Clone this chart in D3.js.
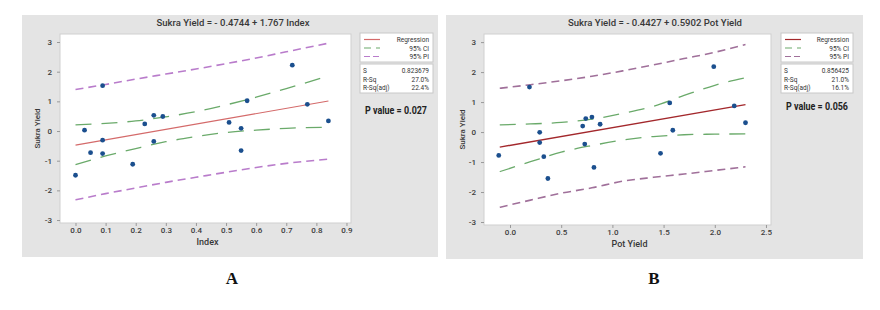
<!DOCTYPE html>
<html>
<head>
<meta charset="utf-8">
<script src="https://cdn.jsdelivr.net/npm/d3@7"></script>
<style>
  body { margin: 0; background: #fff; }
  svg { display: block; font-family: Roboto, "Open Sans", sans-serif; }
</style>
</head>
<body>
<svg id="chart" width="880" height="310"></svg>
<script>
// Panel A: Sukra Yield vs Index
const indexX = [0.00, 0.03, 0.05, 0.09, 0.09, 0.09, 0.19, 0.23, 0.26, 0.29, 0.26, 0.51, 0.55, 0.57, 0.55, 0.72, 0.77, 0.84];
const indexY = [-1.49, 0.03, -0.73, 1.53, -0.31, -0.76, -1.12, 0.24, 0.53, 0.49, -0.35, 0.29, 0.09, 1.02, -0.66, 2.22, 0.90, 0.34];
const bandXA = [0, 0.1, 0.2, 0.3, 0.4, 0.5, 0.6, 0.7, 0.84];
const ciUpperA = [0.21, 0.26, 0.34, 0.48, 0.65, 0.88, 1.14, 1.43, 1.86];
const ciLowerA = [-1.13, -0.84, -0.59, -0.36, -0.19, -0.05, 0.03, 0.09, 0.13];
const piUpperA = [1.40, 1.57, 1.75, 1.92, 2.09, 2.27, 2.46, 2.67, 2.96];
const piLowerA = [-2.32, -2.11, -1.92, -1.73, -1.56, -1.39, -1.23, -1.09, -0.95];
const fitXA = [0, 0.84];
const fitYA = [-0.474, 1.010];
const xTicksA = [0, 0.1, 0.2, 0.3, 0.4, 0.5, 0.6, 0.7, 0.8, 0.9];
const statsA = ["0.823679", "27.0%", "22.4%"];

// Panel B: Sukra Yield vs Pot Yield
const potX = [-0.11, 0.19, 0.29, 0.29, 0.33, 0.37, 0.71, 0.74, 0.80, 0.88, 0.73, 0.82, 1.47, 1.56, 1.59, 1.99, 2.19, 2.30];
const potY = [-0.78, 1.50, -0.01, -0.35, -0.82, -1.55, 0.20, 0.45, 0.50, 0.26, -0.40, -1.18, -0.71, 0.97, 0.06, 2.18, 0.87, 0.31];
const bandXB = [-0.1, 0.2, 0.5, 0.8, 1.1, 1.4, 1.7, 2.0, 2.3];
const ciUpperB = [0.24, 0.27, 0.32, 0.43, 0.62, 0.86, 1.22, 1.56, 1.81];
const ciLowerB = [-1.32, -0.99, -0.67, -0.45, -0.27, -0.15, -0.09, -0.07, -0.06];
const piUpperB = [1.46, 1.58, 1.71, 1.86, 2.04, 2.24, 2.45, 2.66, 2.92];
const piLowerB = [-2.51, -2.27, -2.04, -1.86, -1.64, -1.51, -1.40, -1.28, -1.16];
const fitXB = [-0.1, 2.3];
const fitYB = [-0.502, 0.915];
const xTicksB = [0, 0.5, 1.0, 1.5, 2.0, 2.5];
const statsB = ["0.856425", "21.0%", "16.1%"];

const yTicks = [-3, -2, -1, 0, 1, 2, 3];
const statNames = ["S", "R-Sq", "R-Sq(adj)"];

const svg = d3.select("#chart");

function drawPanel(cfg) {
    const g = svg.append("g");

    // grey panel background
    g.append("rect")
        .attr("x", cfg.bg[0]).attr("y", cfg.bg[1])
        .attr("width", cfg.bg[2]).attr("height", cfg.bg[3])
        .attr("fill", "#e4e4e4");

    const x = d3.scaleLinear().domain(cfg.xDomain).range([cfg.plot[0], cfg.plot[2]]);
    const y = d3.scaleLinear().domain([3.27, -3.1]).range([cfg.plot[1], cfg.plot[3]]);

    // white plot area
    g.append("rect")
        .attr("x", cfg.plot[0]).attr("y", cfg.plot[1])
        .attr("width", cfg.plot[2] - cfg.plot[0]).attr("height", cfg.plot[3] - cfg.plot[1])
        .attr("fill", "#fff")
        .attr("stroke", "#cfcfcf")
        .attr("stroke-width", 1);

    // axes
    const xAxis = g.append("g")
        .attr("transform", `translate(0,${cfg.plot[3]})`)
        .call(d3.axisBottom(x).tickValues(cfg.xTicks).tickFormat(d3.format(".1f")).tickSize(3).tickPadding(1.5));
    const yAxis = g.append("g")
        .attr("transform", `translate(${cfg.plot[0]},0)`)
        .call(d3.axisLeft(y).tickValues(yTicks).tickFormat(d => d < 0 ? "-" + Math.abs(d) : d).tickSize(3).tickPadding(5));
    [xAxis, yAxis].forEach(a => {
        a.select(".domain").remove();
        a.selectAll(".tick line").attr("stroke", "#999");
        a.selectAll(".tick text")
            .attr("fill", "#3c3c3c")
            .style("font-size", "8px")
            .style("font-weight", "500")
            .style("font-family", "Roboto, sans-serif");
    });

    const line = d3.line().x(d => x(d[0])).y(d => y(d[1])).curve(d3.curveMonotoneX);
    const zip = (xs, ys) => xs.map((v, i) => [v, ys[i]]);

    // prediction interval
    [cfg.piUpper, cfg.piLower].forEach(arr => {
        g.append("path")
            .datum(zip(cfg.bandX, arr))
            .attr("d", line)
            .attr("fill", "none")
            .attr("stroke", cfg.piColor)
            .attr("stroke-width", 1.6)
            .attr("stroke-dasharray", "8,5");
    });
    // confidence interval
    [cfg.ciUpper, cfg.ciLower].forEach(arr => {
        g.append("path")
            .datum(zip(cfg.bandX, arr))
            .attr("d", line)
            .attr("fill", "none")
            .attr("stroke", "#6aaa6a")
            .attr("stroke-width", 1.3)
            .attr("stroke-dasharray", "16,10");
    });
    // regression line
    g.append("path")
        .datum(zip(cfg.fitX, cfg.fitY))
        .attr("d", line)
        .attr("fill", "none")
        .attr("stroke", cfg.regColor)
        .attr("stroke-width", cfg.regWidth);

    // data points
    g.selectAll("circle.pt")
        .data(zip(cfg.ptX, cfg.ptY))
        .enter().append("circle")
        .attr("class", "pt")
        .attr("cx", d => x(d[0]))
        .attr("cy", d => y(d[1]))
        .attr("r", 2.4)
        .attr("fill", "#1b4f8e");

    // title and axis labels
    const midX = (cfg.plot[0] + cfg.plot[2]) / 2;
    g.append("text")
        .attr("x", cfg.titleX).attr("y", 26)
        .attr("text-anchor", "middle")
        .attr("fill", "#383838")
        .style("font-size", "9px").style("font-weight", "500")
        .attr("textLength", cfg.titleLen).attr("lengthAdjust", "spacingAndGlyphs")
        .text(cfg.title);
    g.append("text")
        .attr("x", midX + 2).attr("y", cfg.xLabelY)
        .attr("text-anchor", "middle")
        .attr("fill", "#383838")
        .style("font-size", "9px").style("font-weight", "500")
        .text(cfg.xLabel);
    g.append("text")
        .attr("transform", `translate(${cfg.yLabelX},${(cfg.plot[1] + cfg.plot[3]) / 2}) rotate(-90)`)
        .attr("text-anchor", "middle")
        .attr("fill", "#383838")
        .style("font-size", "8px").style("font-weight", "500")
        .text("Sukra Yield");

    // legend box
    const lx = cfg.legend[0], lw = cfg.legend[1];
    g.append("rect")
        .attr("x", lx).attr("y", 33).attr("width", lw).attr("height", 29)
        .attr("fill", "#fff").attr("stroke", "#c8c8c8");
    const legItems = [
        { name: "Regression", color: cfg.regColor, dash: null },
        { name: "95% CI", color: "#6aaa6a", dash: "7,5" },
        { name: "95% PI", color: cfg.piColor, dash: "6,3" }
    ];
    legItems.forEach((it, i) => {
        const yy = 39.5 + i * 8.5;
        g.append("line")
            .attr("x1", lx + 4).attr("x2", lx + 20)
            .attr("y1", yy).attr("y2", yy)
            .attr("stroke", it.color).attr("stroke-width", 1.2)
            .attr("stroke-dasharray", it.dash);
        g.append("text")
            .attr("x", lx + lw - 4).attr("y", yy + 2.5)
            .attr("text-anchor", "end")
            .attr("fill", "#333")
            .style("font-size", "6.5px")
            .text(it.name);
    });

    // stats box
    g.append("rect")
        .attr("x", lx).attr("y", 64).attr("width", lw).attr("height", 29)
        .attr("fill", "#fff").attr("stroke", "#c8c8c8");
    statNames.forEach((s, i) => {
        const yy = 73 + i * 8.5;
        g.append("text")
            .attr("x", lx + 3).attr("y", yy)
            .attr("fill", "#333").style("font-size", "6.5px")
            .text(s);
        g.append("text")
            .attr("x", lx + lw - 4).attr("y", yy)
            .attr("text-anchor", "end")
            .attr("fill", "#333").style("font-size", "6.5px")
            .text(cfg.stats[i]);
    });

    // p value
    g.append("text")
        .attr("x", cfg.pX).attr("y", cfg.pY)
        .attr("fill", "#222")
        .style("font-size", "10px").style("font-weight", "700")
        .attr("textLength", 62).attr("lengthAdjust", "spacingAndGlyphs")
        .text(cfg.pText);

    // panel letter
    g.append("text")
        .attr("x", cfg.letterX).attr("y", 284)
        .attr("text-anchor", "middle")
        .attr("fill", "#111")
        .style("font-family", "'Liberation Serif', 'DejaVu Serif', serif")
        .style("font-size", "17px").style("font-weight", "700")
        .text(cfg.letter);
}

drawPanel({
    bg: [22, 15, 416, 242],
    plot: [60, 34, 351, 223],
    xDomain: [-0.0515, 0.915],
    xTicks: xTicksA,
    ptX: indexX, ptY: indexY,
    bandX: bandXA,
    ciUpper: ciUpperA, ciLower: ciLowerA,
    piUpper: piUpperA, piLower: piLowerA,
    fitX: fitXA, fitY: fitYA,
    regColor: "#d46a6a", regWidth: 1.1,
    piColor: "#b97ccb",
    title: "Sukra Yield = - 0.4744 + 1.767 Index",
    titleX: 233, titleLen: 153,
    xLabel: "Index", xLabelY: 245,
    yLabelX: 40,
    legend: [360, 73],
    stats: statsA,
    pText: "P value = 0.027", pX: 365, pY: 114,
    letter: "A", letterX: 232
});

drawPanel({
    bg: [446, 15, 417, 244],
    plot: [484, 34, 771, 225],
    xDomain: [-0.254, 2.549],
    xTicks: xTicksB,
    ptX: potX, ptY: potY,
    bandX: bandXB,
    ciUpper: ciUpperB, ciLower: ciLowerB,
    piUpper: piUpperB, piLower: piLowerB,
    fitX: fitXB, fitY: fitYB,
    regColor: "#a3282c", regWidth: 1.4,
    piColor: "#a0709a",
    title: "Sukra Yield = - 0.4427 + 0.5902 Pot Yield",
    titleX: 655, titleLen: 174,
    xLabel: "Pot Yield", xLabelY: 247,
    yLabelX: 465,
    legend: [781, 72],
    stats: statsB,
    pText: "P value = 0.056", pX: 786, pY: 110,
    letter: "B", letterX: 654
});
</script>
</body>
</html>
